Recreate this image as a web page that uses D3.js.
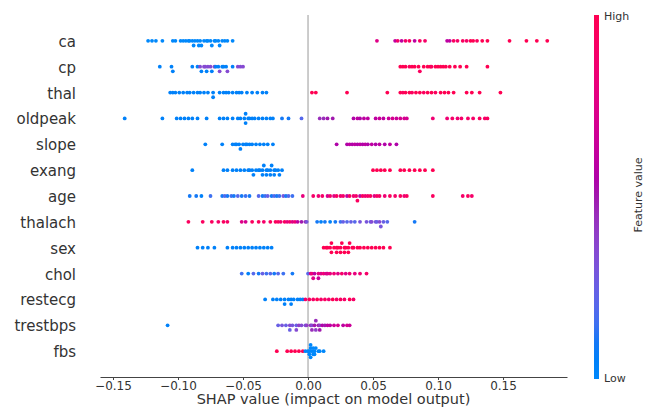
<!DOCTYPE html>
<html>
<head>
<meta charset="utf-8">
<script src="https://cdn.jsdelivr.net/npm/d3@7"></script>
<style>
  body { margin: 0; background: #fff; }
  text { font-family: "DejaVu Sans", sans-serif; }
</style>
</head>
<body>
<div id="shap"></div>
<script>
// features, top to bottom
var features = ["ca", "cp", "thal", "oldpeak", "slope", "exang", "age", "thalach", "sex", "chol", "restecg", "trestbps", "fbs"];

// [shap value, feature value (0 = low, 1 = high)]
var ca = [[-0.123,0],[-0.120,0],[-0.117,0],[-0.112,0],[-0.104,0],[-0.102,0],[-0.098,0],[-0.096,0],[-0.094,0],[-0.092,0],
  [-0.091,0],[-0.089,0],[-0.088,0],[-0.087,0],[-0.085,0],[-0.084,0],[-0.083,0],[-0.082,0],[-0.080,0],[-0.078,0],
  [-0.077,0],[-0.075,0],[-0.074,0],[-0.072,0],[-0.071,0],[-0.069,0],[-0.068,0],[-0.066,0],[-0.064,0],[-0.062,0],[-0.058,0],
  [0.053,0.75],[0.067,0.6],[0.069,0.9],[0.072,0.6],[0.075,0.9],[0.078,0.95],[0.082,0.6],[0.086,0.95],[0.090,0.9],
  [0.107,0.6],[0.109,0.6],[0.112,0.95],[0.115,0.9],[0.119,0.95],[0.122,0.9],[0.125,1],[0.127,1],[0.130,0.95],
  [0.134,1],[0.138,1],[0.155,1],[0.168,1],[0.176,1],[0.184,1]];

var cp = [[-0.114,0.05],[-0.105,0.05],[-0.104,0.05],[-0.089,0.05],[-0.085,0.05],[-0.083,0.35],[-0.082,0.05],[-0.080,0.35],
  [-0.079,0.35],[-0.078,0.05],[-0.077,0.35],[-0.075,0.35],[-0.074,0.05],[-0.072,0.35],[-0.071,0.05],[-0.069,0.05],
  [-0.068,0.35],[-0.066,0.05],[-0.065,0.05],[-0.063,0.05],[-0.062,0.35],[-0.058,0.05],[-0.054,0.35],[-0.052,0.35],[-0.050,0.35],
  [0.071,1],[0.073,1],[0.075,1],[0.078,0.95],[0.080,1],[0.082,1],[0.085,1],[0.086,0.95],[0.089,1],[0.092,1],[0.094,1],
  [0.095,0.95],[0.098,1],[0.100,1],[0.102,1],[0.104,1],[0.106,1],[0.109,1],[0.113,1],[0.117,1],[0.122,1],[0.138,1]];

var thal = [[-0.106,0.05],[-0.104,0.05],[-0.102,0.05],[-0.099,0.05],[-0.096,0.05],[-0.093,0.05],[-0.091,0.05],[-0.088,0.05],
  [-0.085,0.05],[-0.083,0.05],[-0.080,0.05],[-0.077,0.05],[-0.073,0.05],[-0.073,0.05],[-0.068,0.05],[-0.065,0.05],
  [-0.063,0.05],[-0.061,0.05],[-0.058,0.05],[-0.055,0.05],[-0.053,0.05],[-0.051,0.05],[-0.047,0.05],[-0.043,0.05],
  [-0.039,0.05],[-0.035,0.05],[-0.032,0.05],
  [0.003,1],[0.006,1],[0.030,1],[0.061,1],[0.071,1],[0.073,0.95],[0.075,1],[0.078,1],[0.080,0.95],[0.083,1],[0.086,1],
  [0.089,0.95],[0.092,1],[0.095,1],[0.098,0.95],[0.102,1],[0.105,1],[0.108,1],[0.112,1],[0.122,1],[0.126,1],[0.132,1],[0.148,1]];

var oldpeak = [[-0.141,0.05],[-0.112,0.05],[-0.101,0.05],[-0.098,0.05],[-0.095,0.05],[-0.092,0.05],[-0.089,0.05],[-0.085,0.05],
  [-0.078,0.05],[-0.068,0.05],[-0.065,0.05],[-0.062,0.05],[-0.058,0.05],[-0.054,0.05],[-0.052,0.05],[-0.049,0.05],
  [-0.048,0.05],[-0.048,0.05],[-0.046,0.05],[-0.045,0.05],[-0.043,0.05],[-0.041,0.05],[-0.038,0.05],[-0.035,0.05],
  [-0.032,0.05],[-0.029,0.05],[-0.027,0.05],[-0.020,0.1],[-0.015,0.1],[-0.005,0.2],
  [0.009,0.45],[0.012,0.45],[0.015,0.5],[0.019,0.5],[0.035,0.55],[0.038,0.6],[0.040,0.55],[0.043,0.6],[0.046,0.6],
  [0.052,0.6],[0.055,0.65],[0.058,0.6],[0.062,0.65],[0.065,0.7],[0.068,0.65],[0.071,0.7],[0.074,0.7],[0.076,0.7],
  [0.096,0.85],[0.107,0.85],[0.111,0.9],[0.115,0.85],[0.118,0.9],[0.123,0.9],[0.127,0.9],[0.132,0.95],[0.136,0.9],[0.138,0.95]];

var slope = [[-0.079,0.05],[-0.066,0.05],[-0.058,0.05],[-0.056,0.05],[-0.055,0.05],[-0.053,0.05],[-0.052,0.05],[-0.050,0.05],
  [-0.048,0.05],[-0.047,0.05],[-0.045,0.05],[-0.043,0.05],[-0.040,0.05],[-0.037,0.05],[-0.034,0.05],[-0.031,0.05],[-0.027,0.05],
  [0.022,0.55],[0.030,0.55],[0.032,0.6],[0.034,0.55],[0.036,0.6],[0.038,0.55],[0.040,0.6],[0.042,0.55],[0.044,0.6],
  [0.046,0.55],[0.049,0.6],[0.052,0.55],[0.055,0.6],[0.059,0.55],[0.063,0.6],[0.068,0.55]];

var exang = [[-0.089,0.05],[-0.065,0.05],[-0.062,0.05],[-0.058,0.05],[-0.055,0.05],[-0.052,0.05],[-0.049,0.05],[-0.046,0.05],
  [-0.045,0.05],[-0.043,0.05],[-0.042,0.05],[-0.040,0.05],[-0.038,0.05],[-0.037,0.05],[-0.035,0.05],[-0.035,0.05],
  [-0.034,0.05],[-0.032,0.05],[-0.032,0.05],[-0.031,0.05],[-0.029,0.05],[-0.029,0.05],[-0.028,0.05],[-0.026,0.05],
  [-0.026,0.05],[-0.025,0.05],[-0.023,0.05],[-0.022,0.05],[-0.020,0.05],
  [0.050,1],[0.053,1],[0.056,1],[0.059,1],[0.063,1],[0.071,1],[0.074,1],[0.078,1],[0.082,1],[0.086,1],[0.090,1],[0.096,1]];

var age = [[-0.091,0.1],[-0.086,0.1],[-0.082,0.05],[-0.075,0.15],[-0.066,0.1],[-0.064,0.2],[-0.062,0.1],[-0.059,0.15],
  [-0.057,0.1],[-0.054,0.2],[-0.051,0.1],[-0.048,0.15],[-0.045,0.1],[-0.038,0.2],[-0.035,0.1],[-0.033,0.15],
  [-0.031,0.25],[-0.028,0.1],[-0.026,0.2],[-0.024,0.1],[-0.022,0.15],[-0.019,0.3],[-0.017,0.1],[-0.015,0.2],
  [-0.012,0.15],[-0.004,0.8],
  [0.004,0.9],[0.008,0.85],[0.011,0.9],[0.015,0.7],[0.017,0.9],[0.020,0.75],[0.022,0.95],[0.025,0.85],[0.027,0.9],
  [0.030,0.6],[0.032,0.95],[0.035,0.85],[0.037,0.9],[0.038,0.95],[0.040,0.6],[0.042,0.95],[0.044,0.85],[0.046,0.9],
  [0.048,0.95],[0.051,0.75],[0.053,0.95],[0.055,0.9],[0.059,0.85],[0.063,0.95],[0.067,0.9],[0.071,0.95],[0.074,0.85],
  [0.076,0.95],[0.096,0.95],[0.119,0.9],[0.123,0.95],[0.126,0.9]];

var thalach = [[-0.092,0.95],[-0.081,0.95],[-0.074,0.95],[-0.069,0.9],[-0.065,0.95],[-0.062,0.9],[-0.051,0.75],[-0.048,0.7],
  [-0.043,0.95],[-0.038,0.95],[-0.034,0.9],[-0.029,0.95],[-0.025,0.95],[-0.023,0.95],[-0.021,0.85],[-0.018,0.95],
  [-0.016,0.8],[-0.014,0.9],[-0.012,0.75],[-0.010,0.85],[-0.008,0.6],[-0.005,0.5],[-0.002,0.45],
  [-0.001,0.3],[0.007,0.1],[0.010,0.05],[0.013,0.1],[0.017,0.05],[0.021,0.1],[0.025,0.15],[0.027,0.25],[0.030,0.2],
  [0.033,0.25],[0.036,0.2],[0.040,0.3],[0.045,0.3],[0.048,0.25],[0.049,0.35],[0.052,0.3],[0.053,0.25],[0.055,0.35],
  [0.056,0.3],[0.058,0.25],[0.061,0.2],[0.082,0.1]];

var sex = [[-0.085,0.05],[-0.081,0.05],[-0.077,0.05],[-0.072,0.05],[-0.062,0.05],[-0.058,0.05],[-0.055,0.05],[-0.052,0.05],
  [-0.049,0.05],[-0.046,0.05],[-0.043,0.05],[-0.040,0.05],[-0.037,0.05],[-0.034,0.05],[-0.031,0.05],[-0.028,0.05],
  [0.012,1],[0.014,1],[0.015,1],[0.017,1],[0.018,1],[0.018,1],[0.020,1],[0.022,1],[0.022,1],[0.023,1],[0.025,1],
  [0.025,1],[0.026,1],[0.028,1],[0.028,1],[0.029,1],[0.031,1],[0.031,1],[0.032,1],[0.034,1],[0.035,1],[0.038,1],
  [0.040,1],[0.043,1],[0.046,1],[0.049,1],[0.052,1],[0.055,1],[0.058,1],[0.063,1]];

var chol = [[-0.051,0.15],[-0.046,0.05],[-0.042,0.2],[-0.038,0.1],[-0.035,0.25],[-0.032,0.15],[-0.029,0.2],[-0.026,0.1],
  [-0.023,0.2],[-0.019,0.15],[-0.012,0.1],[0.000,0.2],
  [0.002,0.7],[0.003,0.85],[0.004,0.75],[0.005,0.6],[0.008,0.8],[0.008,0.65],[0.010,0.75],[0.012,0.85],[0.014,0.7],
  [0.015,0.75],[0.017,0.8],[0.020,0.85],[0.023,0.75],[0.026,0.9],[0.029,0.75],[0.032,0.85],[0.036,0.8],[0.040,0.85],[0.045,0.9]];

var restecg = [[-0.033,0.05],[-0.027,0.05],[-0.024,0.05],[-0.021,0.05],[-0.018,0.05],[-0.018,0.05],[-0.015,0.05],
  [-0.013,0.05],[-0.013,0.05],[-0.011,0.05],[-0.008,0.05],[-0.006,0.05],[-0.004,0.05],
  [-0.002,0.9],[0.001,0.95],[0.004,0.9],[0.007,1],[0.010,0.9],[0.013,0.95],[0.016,0.85],[0.019,1],[0.022,0.9],
  [0.025,0.95],[0.028,0.9],[0.032,1],[0.035,0.9]];

var trestbps = [[-0.108,0.05],[-0.023,0.25],[-0.020,0.3],[-0.017,0.25],[-0.014,0.35],[-0.014,0.25],[-0.012,0.3],[-0.009,0.25],
  [-0.009,0.35],[-0.007,0.4],[-0.005,0.35],[-0.002,0.3],[-0.001,0.4],[0.002,0.45],[0.003,0.35],[0.003,0.45],[0.005,0.5],
  [0.006,0.4],[0.006,0.45],[0.008,0.5],[0.009,0.4],[0.009,0.5],[0.011,0.55],[0.013,0.5],[0.015,0.6],[0.017,0.6],
  [0.020,0.65],[0.023,0.7],[0.027,0.6],[0.030,0.7],[0.032,0.65]];

var fbs = [[-0.024,1],[-0.016,1],[-0.013,1],[-0.010,1],[-0.007,1],[-0.004,1],
  [-0.002,0],[0.000,0],[0.001,0],[0.001,0],[0.002,0],[0.002,0],[0.002,0],[0.003,0],[0.004,0],[0.004,0],[0.005,0],
  [0.005,0],[0.006,0],[0.008,0],[0.009,0],[0.012,0]];

var points = [ca, cp, thal, oldpeak, slope, exang, age, thalach, sex, chol, restecg, trestbps, fbs];

var xTicks = [-0.15, -0.10, -0.05, 0.00, 0.05, 0.10, 0.15];

// set the dimensions of the graph
var width = 654, height = 407;
var plot = {left: 100, right: 567, top: 15, bottom: 377};

var svg = d3.select("#shap")
  .append("svg")
    .attr("width", width)
    .attr("height", height);

var x = d3.scaleLinear()
    .domain([-0.16, 0.1992])
    .range([plot.left, plot.right]);

var rowStep = (plot.bottom - plot.top) / (features.length + 1);
var y = function(i) { return plot.top + rowStep * (i + 1); };

// shap red_blue colormap (lch ramp, darker in the middle)
function shapColor(t) {
  var l = t < 0.5 ? 54 - 28 * t : 40 + 28 * (t - 0.5);
  var c = 70 + 20 * t;
  var h = 266.93 + (380.32 - 266.93) * t;
  return d3.hcl(h, c, l).formatHex();
}

// zero line
svg.append("line")
    .attr("x1", x(0)).attr("x2", x(0))
    .attr("y1", plot.top).attr("y2", plot.bottom)
    .attr("stroke", "#999999")
    .attr("stroke-width", 1);

// beeswarm layout: bin by pixel, stack alternately up and down
points.forEach(function(rows, fi) {
  var pts = rows.map(function(d, i) {
    return {px: x(d[0]), v: d[1], bin: Math.round(x(d[0]) / 2.6), i: i};
  });
  var order = pts.slice().sort(function(a, b) { return a.bin - b.bin || a.i - b.i; });
  var layer = 0, last = null;
  order.forEach(function(p) {
    if (p.bin !== last) { layer = 0; last = p.bin; }
    p.off = Math.ceil(layer / 2) * ((layer % 2) * 2 - 1);
    layer += 1;
  });
  var maxOff = d3.max(pts, function(p) { return p.off; });
  var scale = 0.9 * 0.4 * rowStep / (maxOff + 1);

  svg.append("g")
    .selectAll("circle")
    .data(pts)
    .enter()
    .append("circle")
      .attr("cx", function(p) { return p.px; })
      .attr("cy", function(p) { return y(fi) + p.off * scale; })
      .attr("r", 1.9)
      .attr("fill", function(p) { return shapColor(p.v); });
});

// feature names
svg.append("g")
  .selectAll("text")
  .data(features)
  .enter()
  .append("text")
    .attr("x", 76)
    .attr("y", function(d, i) { return y(i) + 1; })
    .attr("text-anchor", "end")
    .attr("dominant-baseline", "central")
    .attr("font-size", "15px")
    .attr("fill", "#333333")
    .text(function(d) { return d; });

// x axis
var xAxis = svg.append("g")
    .attr("transform", "translate(0," + plot.bottom + ")")
    .call(d3.axisBottom(x).tickValues(xTicks).tickFormat(d3.format(".2f")).tickSize(3).tickSizeOuter(0).tickPadding(1));
xAxis.select(".domain").attr("stroke", "#444");
xAxis.selectAll(".tick line").attr("stroke", "#444");
xAxis.selectAll("text")
    .attr("font-size", "12px")
    .attr("font-family", "DejaVu Sans")
    .attr("fill", "#333333");

svg.append("text")
    .attr("x", (plot.left + plot.right) / 2)
    .attr("y", 404)
    .attr("text-anchor", "middle")
    .attr("font-size", "14.5px")
    .attr("fill", "#333333")
    .text("SHAP value (impact on model output)");

// colour bar
var grad = svg.append("defs").append("linearGradient")
    .attr("id", "cbar")
    .attr("x1", 0).attr("y1", 1).attr("x2", 0).attr("y2", 0);
d3.range(0, 1.0001, 0.05).forEach(function(t) {
  grad.append("stop").attr("offset", t).attr("stop-color", shapColor(t));
});
var cb = {x: 594, w: 5, top: 15, bottom: 379};
svg.append("rect")
    .attr("x", cb.x).attr("y", cb.top)
    .attr("width", cb.w).attr("height", cb.bottom - cb.top)
    .attr("fill", "url(#cbar)");

svg.append("text")
    .attr("x", 604).attr("y", cb.top + 1)
    .attr("dominant-baseline", "central")
    .attr("font-size", "11px")
    .attr("fill", "#333333")
    .text("High");
svg.append("text")
    .attr("x", 604).attr("y", cb.bottom - 1)
    .attr("dominant-baseline", "central")
    .attr("font-size", "11px")
    .attr("fill", "#333333")
    .text("Low");
svg.append("text")
    .attr("transform", "translate(638," + 195 + ")rotate(-90)")
    .attr("text-anchor", "middle")
    .attr("dominant-baseline", "central")
    .attr("font-size", "11px")
    .attr("fill", "#333333")
    .text("Feature value");
</script>
</body>
</html>
